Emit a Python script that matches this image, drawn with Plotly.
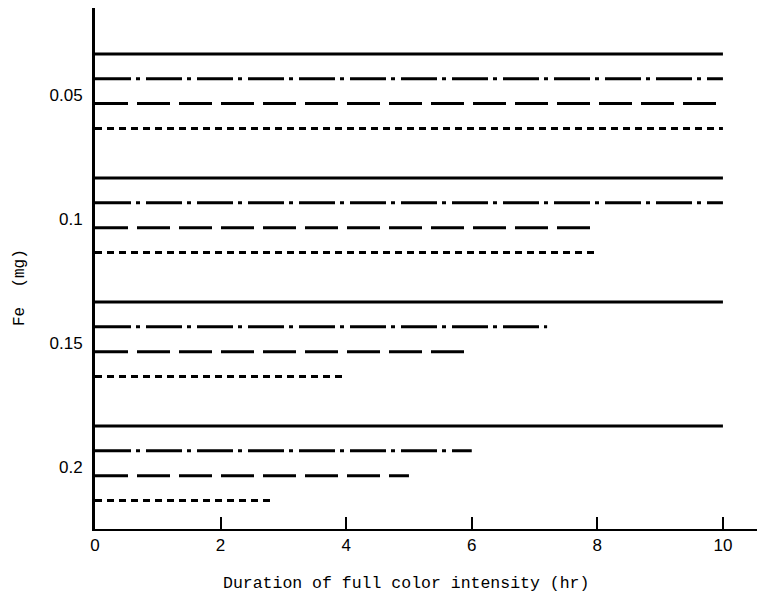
import plotly.graph_objects as go

# Data
fe_labels = ["0.05", "0.1", "0.15", "0.2"]
series_names = ["A", "B", "C", "D"]
solid_end = [10, 10, 10, 10]
dashdot_end = [10, 10, 7.2, 6.0]
dash_end = [10, 8.0, 6.0, 5.0]
dot_end = [10, 8.0, 4.0, 2.8]
x_ticks = [0, 2, 4, 6, 8, 10]

series = [solid_end, dashdot_end, dash_end, dot_end]
styles = [
    dict(dash="solid", width=3),
    dict(dash="36px,5px,4px,6px", width=3),
    dict(dash="33px,9px", width=3),
    dict(dash="7px,5px", width=3),
]

GROUP_STEP = 5
fig = go.Figure()
for k, (vals, st, nm) in enumerate(zip(series, styles, series_names)):
    for i, v in enumerate(vals):
        y = i * GROUP_STEP + k
        fig.add_trace(go.Scatter(
            x=[0, v], y=[y, y], mode="lines",
            line=dict(color="black", **st),
            name=nm, showlegend=False, hoverinfo="skip"))

W, H = 757, 587
L, R, T, B = 87, 0, 0, 66
fig.update_layout(
    width=W, height=H,
    margin=dict(l=L, r=R, t=T, b=B, autoexpand=False),
    paper_bgcolor="white", plot_bgcolor="white",
    showlegend=False,
    font=dict(family="Liberation Sans", color="black", size=14),
)
fig.update_xaxes(
    range=[0, 10.67], showgrid=False, zeroline=False,
    showline=True, linecolor="black", linewidth=2,
    ticks="inside", ticklen=12, tickwidth=2, tickcolor="black",
    tickvals=x_ticks, ticktext=[str(t) for t in x_ticks],
    tickfont=dict(size=17, family="Liberation Sans Narrow, Liberation Sans"),
)
fig.update_yaxes(
    range=[19.15, -1.855], showgrid=False, zeroline=False,
    showline=True, linecolor="black", linewidth=3,
    ticks="", tickvals=[i * GROUP_STEP + 1.65 for i in range(len(fe_labels))],
    ticktext=fe_labels, ticklabelstandoff=6,
    tickfont=dict(size=17, family="Liberation Sans Narrow, Liberation Sans"),
)
pw, ph = W - L - R, H - T - B
fig.add_annotation(
    text="Fe  (mg)", textangle=-90, showarrow=False,
    xref="paper", yref="paper", x=(12 - L) / pw, y=(ph - 280) / ph,
    xanchor="center", yanchor="middle",
    font=dict(family="Liberation Mono", size=16),
)
fig.add_annotation(
    text="Duration of full color intensity (hr)", showarrow=False,
    xref="paper", yref="paper", x=(398 - L) / pw, y=(ph - 575) / ph,
    xanchor="center", yanchor="middle",
    font=dict(family="Liberation Mono", size=16.5),
)
fig.write_html("out.html")
